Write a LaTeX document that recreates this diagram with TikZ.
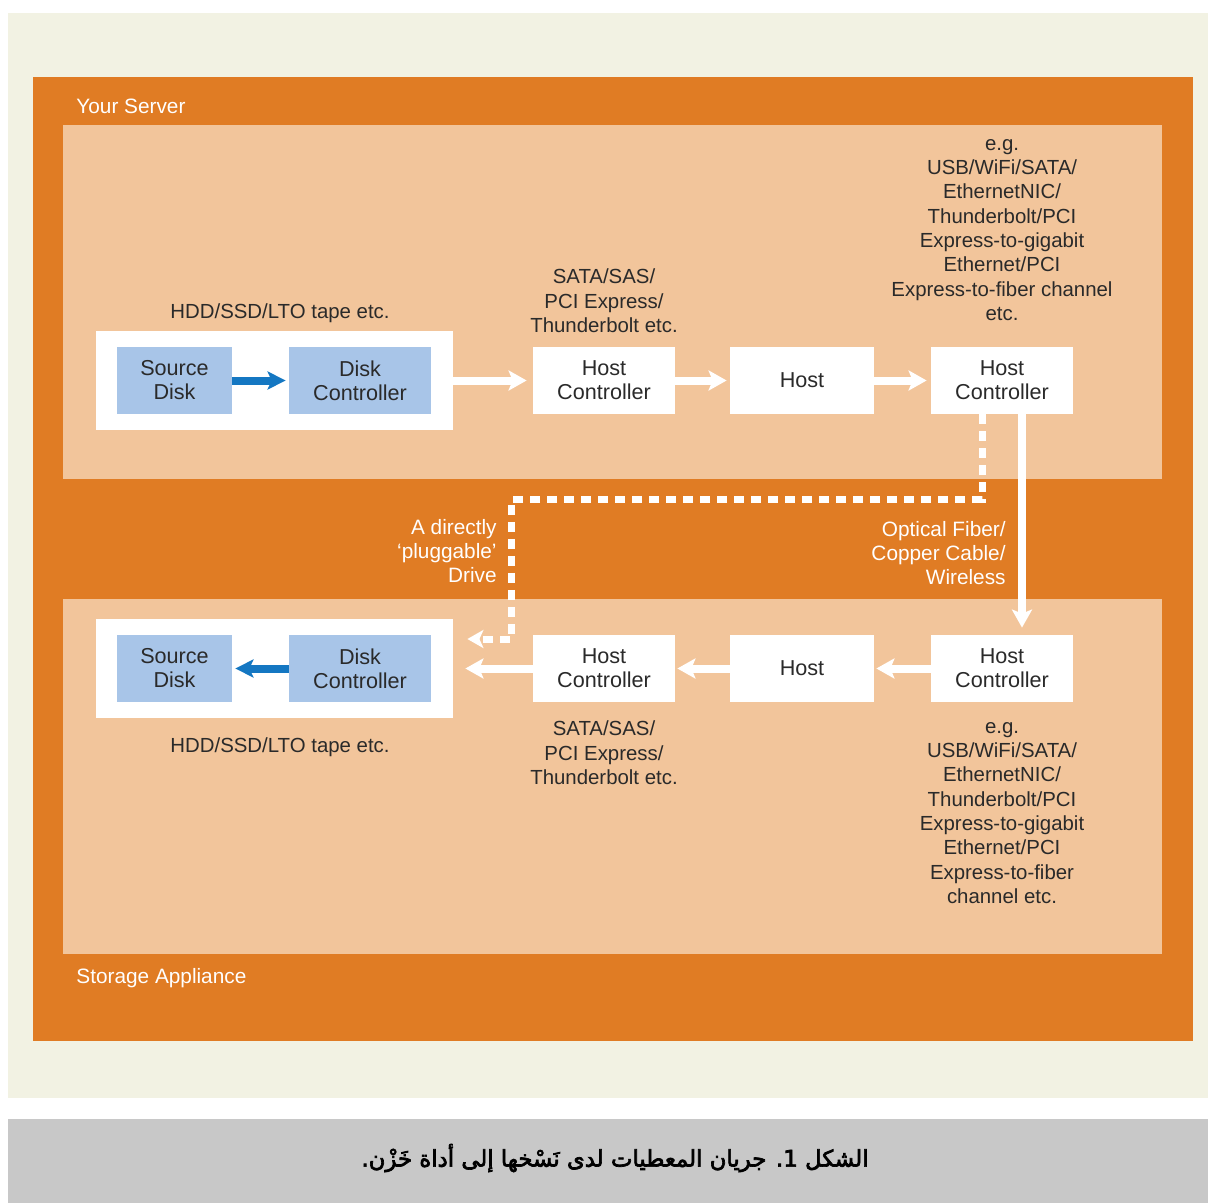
\documentclass[tikz,border=0pt]{standalone}
\usepackage{fontspec}
\setmainfont{Liberation Sans}
\TeXXeTstate=1
\newfontfamily\arabicfont[Script=Arabic,FakeBold=3]{DejaVu Sans}
\usetikzlibrary{arrows.meta}
\definecolor{cream}{HTML}{F2F2E3}
\definecolor{orng}{HTML}{E07C24}
\definecolor{pale}{HTML}{F2C59B}
\definecolor{bluebox}{HTML}{A8C5E8}
\definecolor{bluearr}{HTML}{1477C2}
\definecolor{capgray}{HTML}{C8C8C8}
\definecolor{txt}{HTML}{2A2A2A}
\begin{document}
\begin{tikzpicture}[x=0.5pt,y=-0.5pt,
  box/.style={fill=white, minimum width=71pt, minimum height=33.5pt, inner sep=0pt, align=center, font=\fontsize{10.8}{12}\selectfont, text=txt},
  bbox/.style={box, fill=bluebox},
  lbl/.style={align=center, font=\fontsize{10.2}{12.15}\selectfont, text=txt, inner sep=0pt},
  wlbl/.style={font=\fontsize{10.4}{12.15}\selectfont, text=white, inner sep=0pt},
  warr/.style={draw=white, line width=4pt, -{Stealth[length=9pt,width=10pt,inset=2pt]}},
  barr/.style={draw=bluearr, line width=4pt, -{Stealth[length=9pt,width=9pt,inset=2pt]}},
  darr/.style={draw=white, line width=3.5pt, dash pattern=on 5pt off 3.5pt, line join=miter, -{Stealth[length=8pt,width=9pt,inset=2pt]}}
]
\useasboundingbox (0,0) rectangle (1208,1203);
\fill[white] (0,0) rectangle (1208,1203);
\fill[cream] (8,13) rectangle (1208,1098);
\fill[capgray] (8,1119) rectangle (1208,1203);
\fill[orng] (33,77) rectangle (1193,1041);
\fill[pale] (63,125) rectangle (1162,479);
\fill[pale] (63,599) rectangle (1162,954);

% top row
\node[box, minimum width=178.5pt, minimum height=49.5pt] (wb1) at (274.5,380.5) {};
\node[bbox, minimum width=57.5pt] (sd1) at (174.5,380.5) {Source\\Disk};
\node[bbox] (dc1) at (360,380.5) {Disk\\Controller};
\node[box] (hc1) at (604,380.5) {Host\\Controller};
\node[box, minimum width=72pt] (h1) at (802,380.5) {Host};
\node[box] (hc2) at (1002,380.5) {Host\\Controller};

% bottom row
\node[box, minimum width=178.5pt, minimum height=49.5pt] (wb2) at (274.5,668.5) {};
\node[bbox, minimum width=57.5pt] (sd2) at (174.5,668.5) {Source\\Disk};
\node[bbox] (dc2) at (360,668.5) {Disk\\Controller};
\node[box] (hc4) at (604,668.5) {Host\\Controller};
\node[box, minimum width=72pt] (h2) at (802,668.5) {Host};
\node[box] (hc3) at (1002,668.5) {Host\\Controller};

% arrows top
\draw[barr, shorten >=1.5pt] (sd1.east) -- (dc1.west);
\draw[warr, shorten >=3pt] (wb1.east) -- (hc1.west);
\draw[warr, shorten >=1.5pt] (hc1.east) -- (h1.west);
\draw[warr, shorten >=2pt] (h1.east) -- (hc2.west);
% arrows bottom
\draw[barr, shorten >=1.5pt] (dc2.west) -- (sd2.east);
\draw[warr, shorten >=1pt] (hc3.west) -- (h2.east);
\draw[warr, shorten >=1pt] (h2.west) -- (hc4.east);
\draw[warr, shorten >=6pt] (hc4.west) -- (wb2.east);
% vertical link
\draw[warr, shorten >=3.5pt] ([xshift=10pt]hc2.south) -- ([xshift=10pt]hc3.north);
% dashed link
\coordinate (dj) at (511.5,499.5);
\coordinate (dend) at ([xshift=7pt,yshift=14.75pt]wb2.east);
\draw[darr] ([xshift=-10pt]hc2.south) |- (dj) |- (dend);

% labels
\node[wlbl, anchor=west] (ys) at (76,106) {Your Server};
\node[wlbl, anchor=west] (sa) at (76,978) {Storage Appliance};
\node[lbl] (l1) at (280,313) {HDD/SSD/LTO tape etc.};
\node[lbl] (l2) at (604,301) {SATA/SAS/\\PCI Express/\\Thunderbolt etc.};
\node[lbl] (l3) at (1002,230) {e.g.\\USB/WiFi/SATA/\\EthernetNIC/\\Thunderbolt/PCI\\Express-to-gigabit\\Ethernet/PCI\\Express-to-fiber channel\\etc.};
\node[lbl] (l4) at (280,747) {HDD/SSD/LTO tape etc.};
\node[lbl] (l5) at (604,753) {SATA/SAS/\\PCI Express/\\Thunderbolt etc.};
\node[lbl] (l6) at (1002,813) {e.g.\\USB/WiFi/SATA/\\EthernetNIC/\\Thunderbolt/PCI\\Express-to-gigabit\\Ethernet/PCI\\Express-to-fiber\\channel etc.};
\node[wlbl, align=right, anchor=east] (l7) at (497,551) {A directly\\`pluggable'\\Drive};
\node[wlbl, align=right, anchor=east] (l8) at (1006,553) {Optical Fiber/\\Copper Cable/\\Wireless};

% caption
\node[font=\arabicfont\fontsize{11.4}{13}\selectfont, text=black, inner sep=0pt] (cap) at (615,1158) {\beginR الشكل 1. جريان المعطيات لدى نَسْخها إلى أداة خَزْن.\endR};
\end{tikzpicture}
\end{document}
